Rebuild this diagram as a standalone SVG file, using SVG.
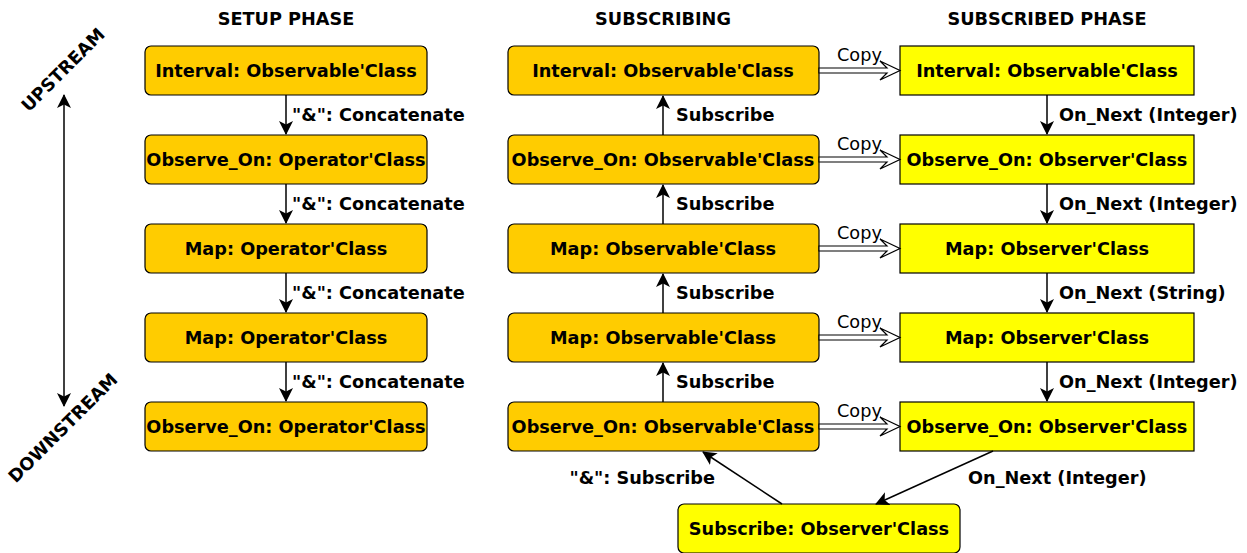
<svg xmlns="http://www.w3.org/2000/svg" width="1247" height="553" viewBox="0 0 1247 553">
<defs>
<style>
text{font-family:"DejaVu Sans",Verdana,sans-serif;fill:#000}
.n{font-size:17.7px;font-weight:bold;text-anchor:middle}
.h{font-size:17.7px;font-weight:bold;text-anchor:middle}
.l{font-size:17.7px;font-weight:bold}
.c{font-size:17.7px}
.o{fill:#ffcc00;stroke:#000;stroke-width:1.2}
.y{fill:#ffff00;stroke:#000;stroke-width:1.2}
.e{stroke:#000;stroke-width:1.5;fill:none}
.cp{fill:#fff;stroke:#000;stroke-width:1.2}
</style>
<marker id="a" viewBox="0 0 14 14" refX="13" refY="7" markerWidth="14" markerHeight="14" markerUnits="userSpaceOnUse" orient="auto-start-reverse">
<path d="M0,0 L14,7 L0,14 L3.5,7 Z" fill="#000"/>
</marker>
</defs>
<g id="headers">
<text class="h" x="286" y="25">SETUP PHASE</text>
<text class="h" x="663" y="25">SUBSCRIBING</text>
<text class="h" x="1047" y="25">SUBSCRIBED PHASE</text>
<text class="h" transform="translate(63,70) rotate(-45)" y="6">UPSTREAM</text>
<text class="h" transform="translate(63,428) rotate(-45)" y="6">DOWNSTREAM</text>
</g>
<g id="s1"><rect class="o" x="145" y="46" width="282" height="49" rx="6"/><text class="n" x="286" y="77">Interval: Observable'Class</text></g>
<g id="s2"><rect class="o" x="145" y="135" width="282" height="49" rx="6"/><text class="n" x="286" y="166">Observe_On: Operator'Class</text></g>
<g id="s3"><rect class="o" x="145" y="224" width="282" height="49" rx="6"/><text class="n" x="286" y="255">Map: Operator'Class</text></g>
<g id="s4"><rect class="o" x="145" y="313" width="282" height="49" rx="6"/><text class="n" x="286" y="344">Map: Operator'Class</text></g>
<g id="s5"><rect class="o" x="145" y="402" width="282" height="49" rx="6"/><text class="n" x="286" y="433">Observe_On: Operator'Class</text></g>
<g id="m1"><rect class="o" x="508" y="46" width="311" height="49" rx="6"/><text class="n" x="663" y="77">Interval: Observable'Class</text></g>
<g id="m2"><rect class="o" x="508" y="135" width="311" height="49" rx="6"/><text class="n" x="663" y="166">Observe_On: Observable'Class</text></g>
<g id="m3"><rect class="o" x="508" y="224" width="311" height="49" rx="6"/><text class="n" x="663" y="255">Map: Observable'Class</text></g>
<g id="m4"><rect class="o" x="508" y="313" width="311" height="49" rx="6"/><text class="n" x="663" y="344">Map: Observable'Class</text></g>
<g id="m5"><rect class="o" x="508" y="402" width="311" height="49" rx="6"/><text class="n" x="663" y="433">Observe_On: Observable'Class</text></g>
<g id="r1"><rect class="y" x="900" y="46" width="294" height="49"/><text class="n" x="1047" y="77">Interval: Observable'Class</text></g>
<g id="r2"><rect class="y" x="900" y="135" width="294" height="49"/><text class="n" x="1047" y="166">Observe_On: Observer'Class</text></g>
<g id="r3"><rect class="y" x="900" y="224" width="294" height="49"/><text class="n" x="1047" y="255">Map: Observer'Class</text></g>
<g id="r4"><rect class="y" x="900" y="313" width="294" height="49"/><text class="n" x="1047" y="344">Map: Observer'Class</text></g>
<g id="r5"><rect class="y" x="900" y="402" width="294" height="49"/><text class="n" x="1047" y="433">Observe_On: Observer'Class</text></g>
<g id="sub"><rect class="y" x="678" y="504" width="282" height="49" rx="6"/><text class="n" x="819" y="535">Subscribe: Observer'Class</text></g>
<g id="connectors">
<line class="e" x1="64" y1="95" x2="64" y2="406" marker-start="url(#a)" marker-end="url(#a)"/>
<line class="e" x1="286" y1="95" x2="286" y2="134" marker-end="url(#a)"/>
<line class="e" x1="286" y1="184" x2="286" y2="223" marker-end="url(#a)"/>
<line class="e" x1="286" y1="273" x2="286" y2="312" marker-end="url(#a)"/>
<line class="e" x1="286" y1="362" x2="286" y2="401" marker-end="url(#a)"/>
<text class="l" x="292" y="121">"&amp;": Concatenate</text>
<text class="l" x="292" y="210">"&amp;": Concatenate</text>
<text class="l" x="292" y="299">"&amp;": Concatenate</text>
<text class="l" x="292" y="388">"&amp;": Concatenate</text>
<line class="e" x1="663" y1="135" x2="663" y2="96" marker-end="url(#a)"/>
<line class="e" x1="663" y1="224" x2="663" y2="185" marker-end="url(#a)"/>
<line class="e" x1="663" y1="313" x2="663" y2="274" marker-end="url(#a)"/>
<line class="e" x1="663" y1="402" x2="663" y2="363" marker-end="url(#a)"/>
<text class="l" x="676" y="121">Subscribe</text>
<text class="l" x="676" y="210">Subscribe</text>
<text class="l" x="676" y="299">Subscribe</text>
<text class="l" x="676" y="388">Subscribe</text>
<line class="e" x1="1047" y1="95" x2="1047" y2="134" marker-end="url(#a)"/>
<line class="e" x1="1047" y1="184" x2="1047" y2="223" marker-end="url(#a)"/>
<line class="e" x1="1047" y1="273" x2="1047" y2="312" marker-end="url(#a)"/>
<line class="e" x1="1047" y1="362" x2="1047" y2="401" marker-end="url(#a)"/>
<text class="l" x="1059" y="121">On_Next (Integer)</text>
<text class="l" x="1059" y="210">On_Next (Integer)</text>
<text class="l" x="1059" y="299">On_Next (String)</text>
<text class="l" x="1059" y="388">On_Next (Integer)</text>
<path class="cp" d="M819,68 L887,68 L880,61 L900,70.5 L880,80 L887,73 L819,73 Z"/>
<path class="cp" d="M819,157 L887,157 L880,150 L900,159.5 L880,169 L887,162 L819,162 Z"/>
<path class="cp" d="M819,246 L887,246 L880,239 L900,248.5 L880,258 L887,251 L819,251 Z"/>
<path class="cp" d="M819,335 L887,335 L880,328 L900,337.5 L880,347 L887,340 L819,340 Z"/>
<path class="cp" d="M819,424 L887,424 L880,417 L900,426.5 L880,436 L887,429 L819,429 Z"/>
<text class="c" x="837" y="61">Copy</text>
<text class="c" x="837" y="150">Copy</text>
<text class="c" x="837" y="239">Copy</text>
<text class="c" x="837" y="328">Copy</text>
<text class="c" x="837" y="417">Copy</text>
<line class="e" x1="782" y1="504" x2="703" y2="452" marker-end="url(#a)" stroke-width="1.2"/>
<line class="e" x1="993" y1="451" x2="876" y2="504" marker-end="url(#a)" stroke-width="1.2"/>
<text class="l" x="715" y="484" text-anchor="end">"&amp;": Subscribe</text>
<text class="l" x="968" y="484">On_Next (Integer)</text>
</g>
</svg>
